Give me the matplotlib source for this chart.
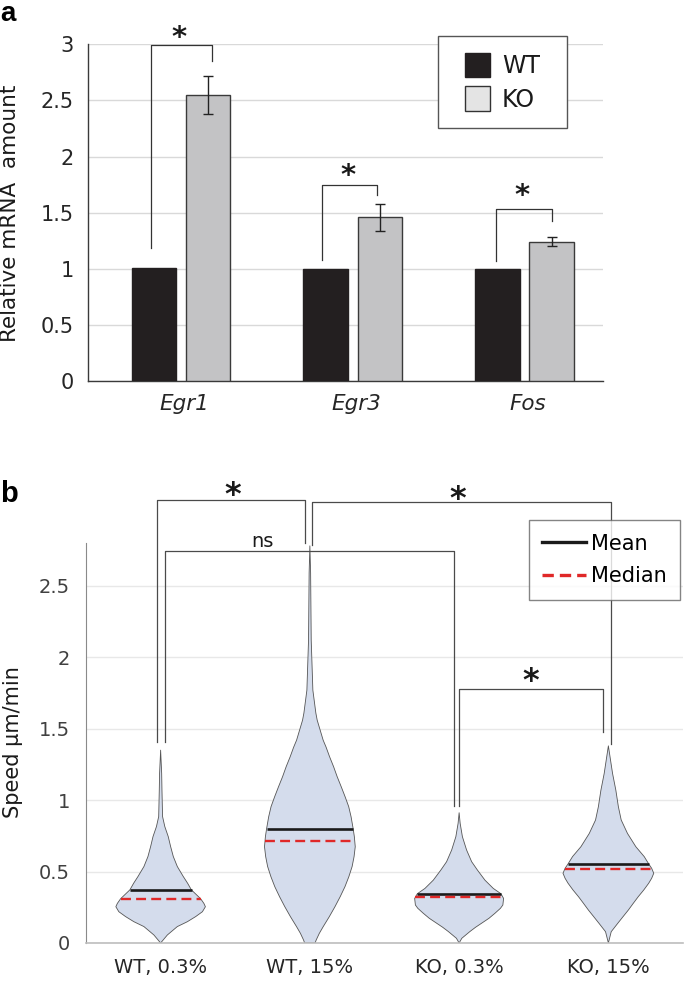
import matplotlib
matplotlib.use('Agg')
import matplotlib.pyplot as plt
from matplotlib.patches import Rectangle
from matplotlib.lines import Line2D
import numpy as np

# ---------------- Panel a data ----------------
genes = ['Egr1', 'Egr3', 'Fos']
wt_values = [1.01, 1.0, 1.0]
ko_values = [2.55, 1.46, 1.24]
ko_errors = [0.17, 0.12, 0.04]
a_yticks = [0, 0.5, 1, 1.5, 2, 2.5, 3]
a_yticklabels = ['0', '0.5', '1', '1.5', '2', '2.5', '3']
a_legend_labels = ['WT', 'KO']

# ---------------- Panel b data ----------------
groups = ['WT, 0.3%', 'WT, 15%', 'KO, 0.3%', 'KO, 15%']
means = [0.371, 0.80, 0.345, 0.553]
medians = [0.31, 0.716, 0.322, 0.516]
b_yticks = [0, 0.5, 1, 1.5, 2, 2.5]
b_yticklabels = ['0', '0.5', '1', '1.5', '2', '2.5']

# violin outlines: speed levels and half widths
wt03_speed = [0, 0.056, 0.079, 0.115, 0.149, 0.185, 0.219, 0.254, 0.277, 0.31,
              0.372, 0.418, 0.465, 0.535, 0.605, 0.675, 0.745, 0.815, 0.885,
              1.07, 1.187, 1.35]
wt03_half = [0, 0.045, 0.071, 0.112, 0.179, 0.235, 0.28, 0.30, 0.29, 0.268,
             0.206, 0.181, 0.152, 0.112, 0.085, 0.067, 0.051, 0.028, 0.013,
             0.009, 0.007, 0]

wt15_speed = [0, 0.02, 0.067, 0.114, 0.184, 0.254, 0.324, 0.394, 0.464, 0.535,
              0.604, 0.674, 0.744, 0.80, 0.884, 0.955, 1.024, 1.094, 1.164,
              1.234, 1.304, 1.37, 1.42, 1.49, 1.56, 1.61, 1.77, 2.12, 2.59, 2.78]
wt15_half = [0.035, 0.042, 0.063, 0.089, 0.13, 0.168, 0.203, 0.235, 0.261, 0.283,
             0.296, 0.304, 0.298, 0.29, 0.276, 0.26, 0.236, 0.21, 0.183,
             0.159, 0.132, 0.109, 0.089, 0.069, 0.049, 0.04, 0.02, 0.009, 0.005, 0]

ko03_speed = [0, 0.033, 0.08, 0.11, 0.138, 0.173, 0.208, 0.243, 0.266, 0.312,
              0.345, 0.382, 0.44, 0.51, 0.569, 0.651, 0.744, 0.837, 0.912]
ko03_half = [0, 0.018, 0.072, 0.11, 0.15, 0.2, 0.24, 0.277, 0.293, 0.298,
             0.28, 0.229, 0.173, 0.123, 0.084, 0.05, 0.022, 0.007, 0]

ko15_speed = [0, 0.079, 0.138, 0.184, 0.231, 0.278, 0.324, 0.371, 0.418, 0.453,
              0.488, 0.523, 0.554, 0.605, 0.674, 0.767, 0.861, 0.954, 1.07,
              1.187, 1.304, 1.38]
ko15_half = [0, 0.019, 0.063, 0.098, 0.134, 0.167, 0.20, 0.237, 0.27, 0.29,
             0.304, 0.29, 0.27, 0.24, 0.184, 0.128, 0.086, 0.067, 0.05,
             0.028, 0.011, 0]

violin_speeds = [wt03_speed, wt15_speed, ko03_speed, ko15_speed]
violin_halves = [wt03_half, wt15_half, ko03_half, ko15_half]

# ---------------- figure ----------------
W, H = 685, 982
fig = plt.figure(figsize=(W / 100, H / 100), dpi=100)
plt.rcParams['font.family'] = ['DejaVu Sans']


def fx(px):
    return px / W


def fy(py):
    return 1 - py / H


# ======== Panel a ========
axa = fig.add_axes([fx(88), fy(381), fx(603) - fx(88), fy(44.3) - fy(381)])
x = np.arange(len(genes))
bar_w = 0.26
wt_x = x + 0.385
ko_x = x + 0.70
axa.bar(wt_x, wt_values, width=bar_w, color='#231f20', edgecolor='#231f20',
        linewidth=1, zorder=3)
axa.bar(ko_x, ko_values, width=bar_w, color='#c3c3c5', edgecolor='#3a3a3a',
        linewidth=1, zorder=3)
axa.errorbar(ko_x, ko_values, yerr=ko_errors, fmt='none', ecolor='#222222',
             elinewidth=1.0, capsize=3.5, capthick=1.0, zorder=4)
axa.set_xlim(0, 3)
axa.set_ylim(0, 3)
axa.set_yticks(a_yticks)
axa.set_yticklabels(a_yticklabels)
axa.set_xticks(x + 0.56)
axa.set_xticklabels(genes, fontstyle='italic', fontsize=15.5, color='#262626')
axa.tick_params(axis='y', length=0, pad=10, labelsize=15, labelcolor='#262626')
axa.tick_params(axis='x', length=0, pad=9)
axa.grid(axis='y', color='#d9d9d9', linewidth=1.0, zorder=0)
axa.set_axisbelow(True)
for s in ['top', 'right']:
    axa.spines[s].set_visible(False)
axa.spines['left'].set_color('#3a3a3a')
axa.spines['bottom'].set_color('#3a3a3a')
axa.spines['left'].set_linewidth(1.0)
axa.spines['bottom'].set_linewidth(1.0)

# significance brackets (left x, right x, left foot, top, right foot)
a_brackets = [(0.365, 0.722, 1.187, 2.99, 2.85),
              (1.362, 1.683, 1.08, 1.75, 1.66),
              (2.379, 2.705, 1.07, 1.53, 1.43)]
a_stars = [(0.532, 3.105), (1.514, 1.88), (2.527, 1.70)]
for (xl, xr, yl, yt, yr) in a_brackets:
    axa.plot([xl, xl, xr, xr], [yl, yt, yt, yr], color='#333333', lw=0.9,
             clip_on=False, zorder=5)
for (sx, sy) in a_stars:
    axa.annotate('*', xy=(sx, sy), xytext=(0, -0.47 * 21), textcoords='offset points',
                 ha='center', va='baseline', fontsize=21, fontweight='bold',
                 color='#1a1a1a', annotation_clip=False)

fig.text(fx(10), fy(213), 'Relative mRNA  amount', rotation=90, ha='center',
         va='center', fontsize=15.5, color='#1a1a1a')
fig.text(fx(0), fy(21), 'a', fontsize=20, fontweight='bold',
         family='Liberation Sans', ha='left', va='baseline')

# manual legend for panel a
fig.add_artist(Rectangle((fx(438), fy(128)), fx(567) - fx(438), fy(36) - fy(128),
                         transform=fig.transFigure, facecolor='white',
                         edgecolor='#555555', lw=1.0, zorder=10))
fig.add_artist(Rectangle((fx(465), fy(77)), fx(25), fy(53) - fy(77),
                         transform=fig.transFigure, facecolor='#231f20',
                         edgecolor='#231f20', lw=1.0, zorder=11))
fig.add_artist(Rectangle((fx(465), fy(111)), fx(25), fy(86) - fy(111),
                         transform=fig.transFigure, facecolor='#e4e4e4',
                         edgecolor='#333333', lw=1.0, zorder=11))
fig.text(fx(502), fy(66), a_legend_labels[0], fontsize=17, va='center', ha='left',
         color='#1a1a1a', zorder=12)
fig.text(fx(502), fy(100), a_legend_labels[1], fontsize=17, va='center', ha='left',
         color='#1a1a1a', zorder=12)

# ======== Panel b ========
axb = fig.add_axes([fx(86), fy(943), fx(683) - fx(86), fy(543) - fy(943)])
centers = np.arange(len(groups)) + 0.5
for c, sp, hw, mn, md in zip(centers, violin_speeds, violin_halves, means, medians):
    sp = np.asarray(sp)
    hw = np.asarray(hw)
    xs = np.concatenate([c - hw, (c + hw)[::-1]])
    ys = np.concatenate([sp, sp[::-1]])
    axb.fill(xs, ys, facecolor='#d4dcec', edgecolor='#555555', lw=0.6,
             joinstyle='round', zorder=2)
    hm = np.interp(mn, sp, hw)
    axb.hlines(mn, c - hm, c + hm, color='#1a1a1a', lw=1.9, zorder=3)
    hd = np.interp(md, sp, hw)
    axb.plot([c - hd, c + hd], [md, md], color='#e02828', lw=1.7,
             dashes=(4.2, 2.2), zorder=3)

axb.set_xlim(0, 4)
axb.set_ylim(0, 2.8)
axb.set_yticks(b_yticks)
axb.set_yticklabels(b_yticklabels)
axb.set_xticks(centers)
axb.set_xticklabels(groups, fontsize=14, color='#262626')
axb.tick_params(axis='y', length=0, pad=11.5, labelsize=14, labelcolor='#404040')
axb.tick_params(axis='x', length=0, pad=10.5)
axb.grid(axis='y', color='#e8e8e8', linewidth=1.0, zorder=0)
axb.set_axisbelow(True)
for s in ['top', 'right']:
    axb.spines[s].set_visible(False)
axb.spines['left'].set_color('#8a8a8a')
axb.spines['left'].set_linewidth(0.8)
axb.spines['bottom'].set_color('#bdbdbd')
axb.spines['bottom'].set_linewidth(1.2)

b_brackets = [(0.476, 1.469, 1.41, 3.10, 2.80),
              (1.514, 3.52, 2.785, 3.088, 1.395),
              (0.529, 2.466, 1.41, 2.743, 0.958),
              (2.496, 3.467, 0.958, 1.78, 1.477)]
b_stars = [(0.986, 3.18), (2.49, 3.15), (2.98, 1.875)]
for (xl, xr, yl, yt, yr) in b_brackets:
    axb.plot([xl, xl, xr, xr], [yl, yt, yt, yr], color='#4a4a4a', lw=0.9,
             clip_on=False, zorder=5)
for (sx, sy) in b_stars:
    axb.annotate('*', xy=(sx, sy), xytext=(0, -0.47 * 23), textcoords='offset points',
                 ha='center', va='baseline', fontsize=23, fontweight='bold',
                 color='#1a1a1a', annotation_clip=False)
axb.text(1.184, 2.775, 'ns', ha='center', va='baseline', fontsize=14,
         color='#1a1a1a', clip_on=False)

fig.text(fx(13), fy(742), 'Speed µm/min', rotation=90, ha='center', va='center',
         fontsize=15, color='#1a1a1a')
fig.text(fx(0), fy(502), 'b', fontsize=21, fontweight='bold',
         family='Liberation Sans', ha='left', va='baseline')

handles = [Line2D([], [], color='#1a1a1a', lw=2.4),
           Line2D([], [], color='#e02828', lw=2.4, dashes=(3.4, 1.8))]
leg = axb.legend(handles, ['Mean', 'Median'], loc='upper left',
                 bbox_to_anchor=(fx(528.7), fy(520)), bbox_transform=fig.transFigure,
                 fontsize=15, frameon=True, fancybox=False, borderpad=0.65,
                 handlelength=2.1, handletextpad=0.25, labelspacing=0.62,
                 borderaxespad=0)
leg.get_frame().set_edgecolor('#666666')
leg.get_frame().set_linewidth(1.0)
leg.set_zorder(10)

fig.savefig('out.png', dpi=100)
